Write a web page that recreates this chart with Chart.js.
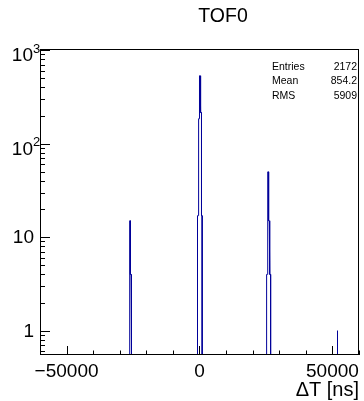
<!DOCTYPE html>
<html>
<head>
<meta charset="utf-8">
<script src="https://cdn.jsdelivr.net/npm/chart.js@4"></script>
<style>
  html, body { margin: 0; padding: 0; background: #fff; }
  #wrap { width: 364px; height: 401px; }
</style>
</head>
<body>
<div id="wrap"><canvas id="tof0" width="364" height="401"></canvas></div>
<script>
// TOF0 histogram, 250 ns bins, only the filled bins are listed
const binWidth = 250;
const binLow = [-26250, -26000, -25750,
  -750, -500, -250, 0, 250, 500, 750,
  25250, 25500, 25750, 26000, 26250, 26500,
  51750];
const binCount = [15, 4, 1,
  17, 48, 185, 533, 330, 215, 17,
  4, 6, 50, 15, 11, 4,
  1];

const xRange = [-60000, 60000];
const yRange = [0.55, 1030];
const xTickValues = [-50000, 0, 50000];
const xMinorStep = 10000;
const yTickValues = [1, 10, 100, 1000];
const yTickLabels = [["1", ""], ["10", ""], ["10", "2"], ["10", "3"]];
const statNames = ["Entries", "Mean", "RMS"];
const statValues = ["2172", "854.2", "5909"];
const titleText = "TOF0";
const xTitle = "\u0394T [ns]";

const FONT = "'Liberation Sans', Arial, sans-serif";
const lineColor = "#000099";

// step outline like ROOT "hist" drawing, empty bins sit on the axis minimum
function outline() {
    const base = yRange[0];
    const pts = [{x: xRange[0], y: base}];
    for (let i = 0; i < binLow.length; i++) {
        const lo = binLow[i], hi = lo + binWidth;
        const prevHi = i > 0 ? binLow[i - 1] + binWidth : null;
        if (prevHi !== lo) pts.push({x: lo, y: base});
        pts.push({x: lo, y: binCount[i]});
        pts.push({x: hi, y: binCount[i]});
        const nextLo = i < binLow.length - 1 ? binLow[i + 1] : null;
        if (nextLo !== hi) pts.push({x: hi, y: base});
    }
    pts.push({x: xRange[1], y: base});
    return pts;
}

// frame, inside ticks, y labels, titles and stats box
const rootFrame = {
    id: "rootFrame",
    afterDraw(chart) {
        const ctx = chart.ctx;
        const ca = chart.chartArea;
        const xs = chart.scales.x, ys = chart.scales.y;
        ctx.save();
        ctx.strokeStyle = "#000";
        ctx.lineWidth = 1;
        ctx.strokeRect(ca.left + 0.5, ca.top + 0.5, ca.right - ca.left - 1, ca.bottom - ca.top - 1);

        // x ticks
        ctx.beginPath();
        for (let v = xRange[0]; v <= xRange[1]; v += xMinorStep) {
            const px = Math.round(xs.getPixelForValue(v)) + 0.5;
            const len = xTickValues.includes(v) ? 9 : 4.5;
            ctx.moveTo(px, ca.bottom);
            ctx.lineTo(px, ca.bottom - len);
        }
        // y ticks, decades and 2..9
        for (let d = 0.1; d <= 1000; d *= 10) {
            for (let m = 1; m <= 9; m++) {
                const v = d * m;
                if (v < yRange[0] || v > yRange[1]) continue;
                const py = Math.round(ys.getPixelForValue(v)) + 0.5;
                const len = m === 1 ? 10 : 5;
                ctx.moveTo(ca.left, py);
                ctx.lineTo(ca.left + len, py);
            }
        }
        ctx.stroke();

        // y labels
        ctx.fillStyle = "#000";
        ctx.textBaseline = "middle";
        yTickValues.forEach((v, i) => {
            const py = ys.getPixelForValue(v);
            const [b, e] = yTickLabels[i];
            if (!e) {
                ctx.font = "19px " + FONT;
                ctx.textAlign = "right";
                ctx.fillText(b, 34, py + 1);
            } else {
                ctx.font = "19px " + FONT;
                ctx.textAlign = "right";
                ctx.fillText(b, 33, py + 6);
                ctx.font = "13px " + FONT;
                ctx.textAlign = "left";
                ctx.fillText(e, 33, py - 1);
            }
        });

        // x axis title, right aligned on the frame edge
        ctx.font = "20px " + FONT;
        ctx.textAlign = "right";
        ctx.fillText(xTitle, ca.right, 390);

        // title
        ctx.font = "19.5px " + FONT;
        ctx.textAlign = "center";
        ctx.fillText(titleText, 223, 17);

        // stats
        ctx.font = "10.5px " + FONT;
        statNames.forEach((n, i) => {
            const y = 67 + i * 14.5;
            ctx.textAlign = "left";
            ctx.fillText(n, 272, y);
            ctx.textAlign = "right";
            ctx.fillText(statValues[i], 357, y);
        });
        ctx.restore();
    }
};

const ctx = document.getElementById("tof0").getContext("2d");

const chart = new Chart(ctx, {
    type: "line",
    data: {
        datasets: [{
            data: outline(),
            borderColor: lineColor,
            borderWidth: 1,
            pointRadius: 0,
            tension: 0,
            fill: false
        }]
    },
    options: {
        responsive: false,
        animation: false,
        layout: { padding: { top: 49, right: 2, left: 0, bottom: 0 } },
        plugins: {
            legend: { display: false },
            tooltip: { enabled: false }
        },
        scales: {
            x: {
                type: "linear",
                min: xRange[0],
                max: xRange[1],
                afterBuildTicks: s => { s.ticks = xTickValues.map(v => ({ value: v })); },
                afterFit: s => { s.height = 46; },
                grid: { display: false, drawTicks: false },
                border: { display: false },
                ticks: {
                    color: "#000",
                    font: { family: FONT, size: 19 },
                    padding: 5,
                    maxRotation: 0,
                    autoSkip: false,
                    callback: v => String(v).replace("-", "\u2212")
                }
            },
            y: {
                type: "logarithmic",
                min: yRange[0],
                max: yRange[1],
                afterFit: s => { s.width = 40; },
                grid: { display: false, drawTicks: false },
                border: { display: false },
                ticks: { display: false }
            }
        }
    },
    plugins: [rootFrame]
});
</script>
</body>
</html>
